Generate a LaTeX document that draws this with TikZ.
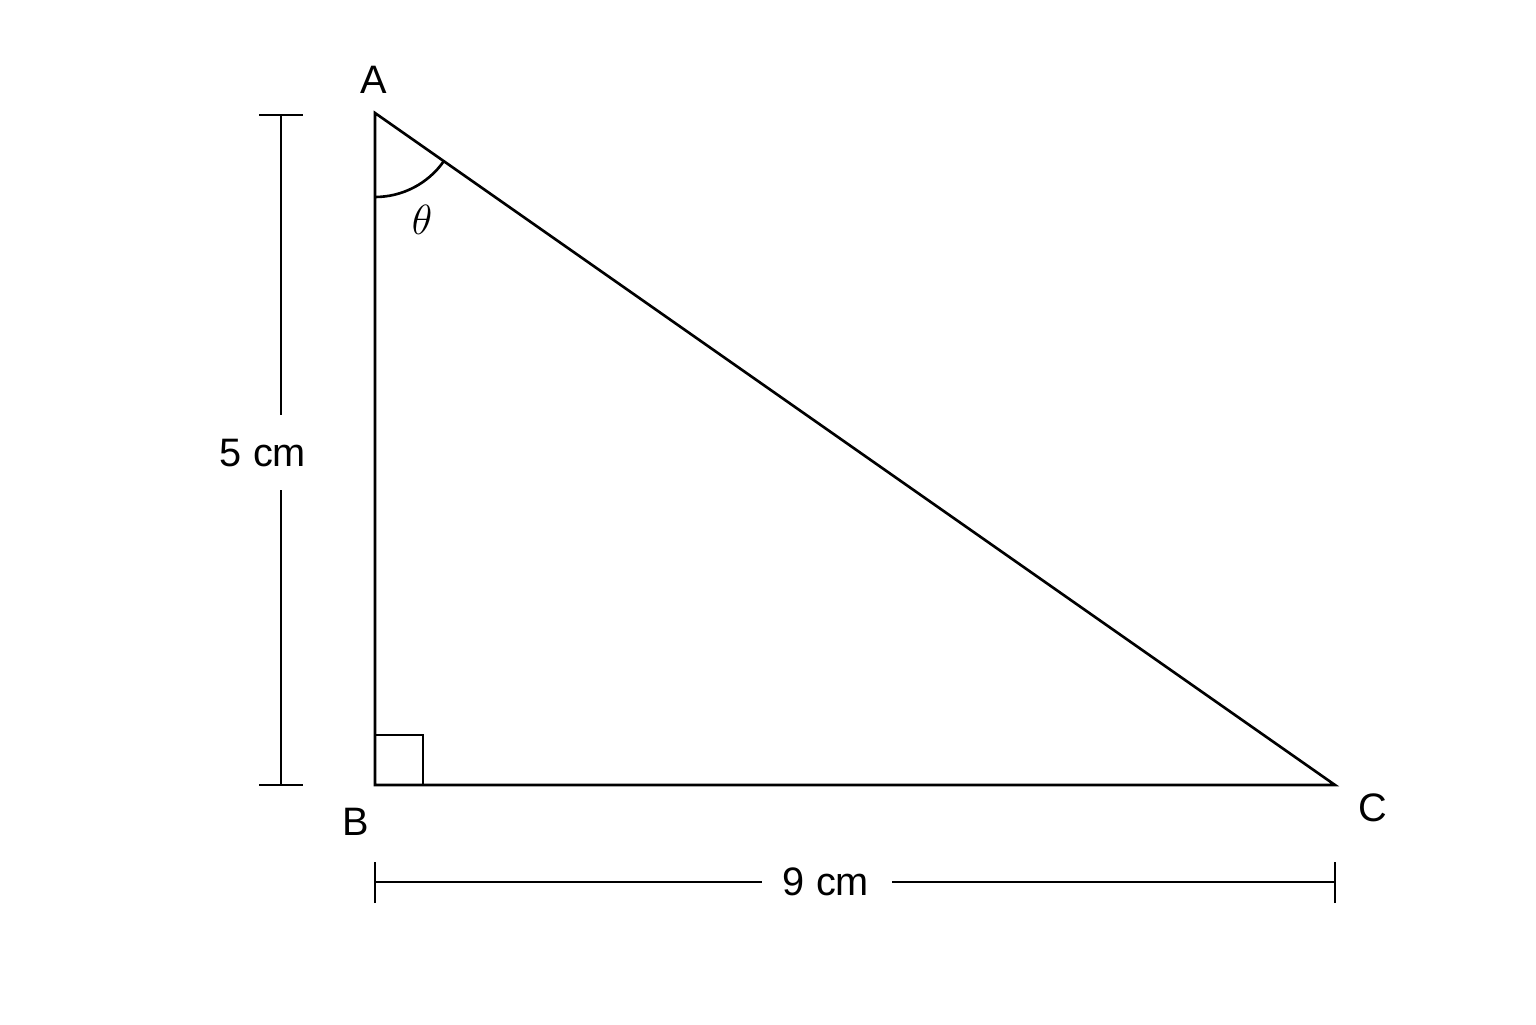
\documentclass[tikz,border=0pt]{standalone}
\usepackage{fontspec}
\setmainfont{Liberation Sans}
\begin{document}
\begin{tikzpicture}[line width=0.75pt,
    lbl/.style={font=\fontsize{11.3}{13}\selectfont, inner sep=0pt}]
    \useasboundingbox (0,0) rectangle (15.36,10.24);

    % Vertices
    \coordinate (A) at (3.75, 9.11);
    \coordinate (B) at (3.75, 2.39);
    \coordinate (C) at (13.35, 2.39);

    % Triangle
    \draw (A) -- (B) -- (C) -- cycle;

    % Right angle
    \draw (B) ++(0, 0.5) -- ++(0.48, 0) -- ++(0, -0.5);

    % Angle
    \draw (A) ++(0, -0.84) arc[start angle=-90, end angle=-35, radius=0.84];
    \node[lbl] (theta) at (4.22, 8.04) {\fontsize{13}{15}\selectfont$\theta$};

    % Vertex labels
    \node[lbl] (labA) at (3.74, 9.44) {A};
    \node[lbl] (labB) at (3.56, 2.02) {B};
    \node[lbl] (labC) at (13.73, 2.16) {C};

    % Height
    \coordinate (h1) at (2.81, 9.09);
    \coordinate (h2) at (2.81, 6.09);
    \coordinate (h3) at (2.81, 5.34);
    \coordinate (h4) at (2.81, 2.39);
    \draw (h1) -- (h2);
    \draw (h3) -- (h4);
    \draw ([xshift=-0.22cm]h1) -- ([xshift=0.22cm]h1);
    \draw ([xshift=-0.22cm]h4) -- ([xshift=0.22cm]h4);
    \node[lbl] (height) at (2.63, 5.71) {5 cm};

    % Base
    \coordinate (b1) at (3.75, 1.42);
    \coordinate (b2) at (7.62, 1.42);
    \coordinate (b3) at (8.92, 1.42);
    \coordinate (b4) at (13.35, 1.42);
    \draw (b1) -- (b2);
    \draw (b3) -- (b4);
    \draw ([yshift=-0.21cm]b1) -- ([yshift=0.2cm]b1);
    \draw ([yshift=-0.21cm]b4) -- ([yshift=0.2cm]b4);
    \node[lbl] (base) at (8.26, 1.42) {9 cm};
\end{tikzpicture}
\end{document}
